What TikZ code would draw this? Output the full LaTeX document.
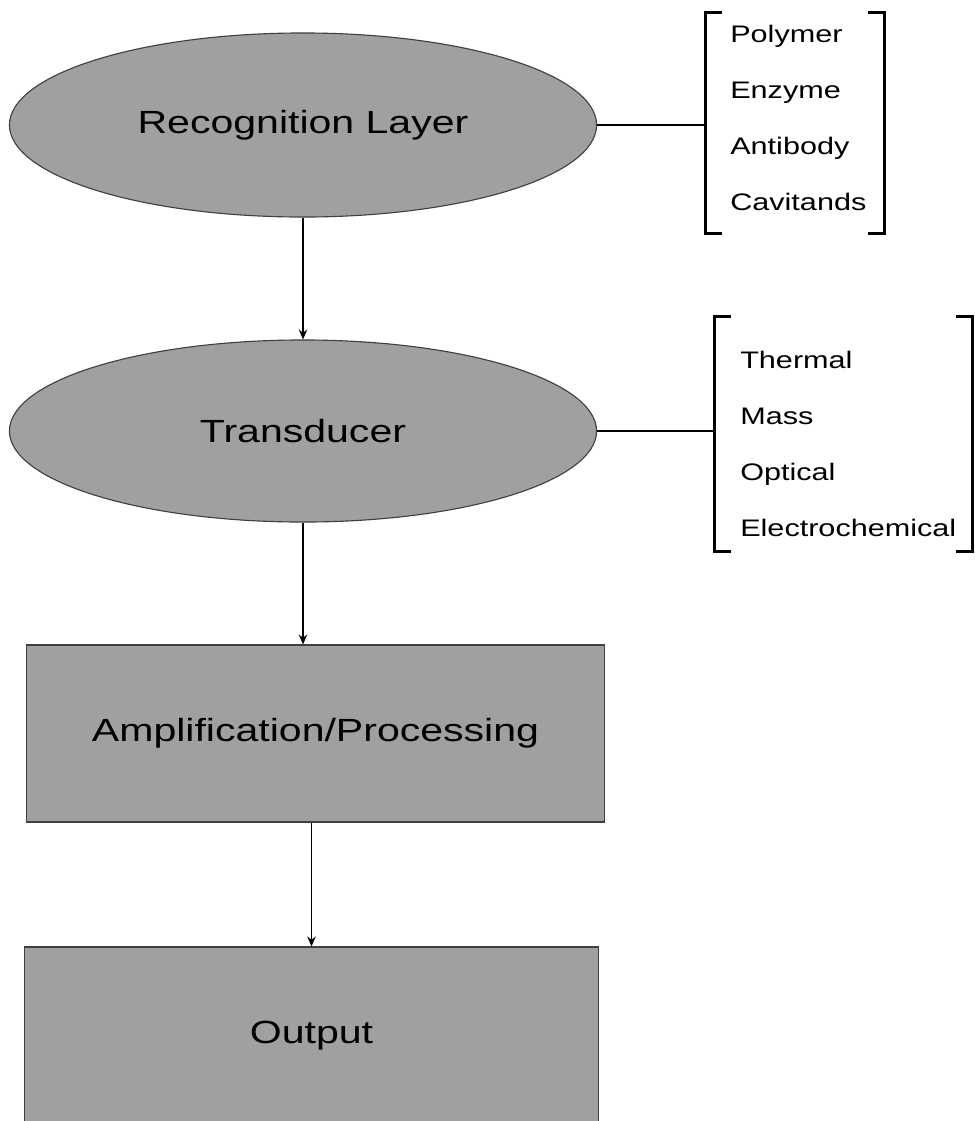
\documentclass[tikz,border=0pt]{standalone}
\usepackage{fontspec}
\setmainfont{Liberation Sans}[FakeStretch=1.28]
\usetikzlibrary{shapes.geometric, arrows.meta, positioning}
\usepackage{xcolor}
\definecolor{SensorGrey}{HTML}{A0A0A0}
\definecolor{SensorEdge}{HTML}{404040}
\tikzset{
    % Stage shapes - grey fill, thin dark border
    stage/.style={
        ellipse,
        draw=SensorEdge,
        fill=SensorGrey,
        line width=0.8pt,
        minimum width=14.675cm,
        minimum height=4.6cm,
        align=center,
        font=\fontsize{22.8}{27}\selectfont
    },
    block/.style={
        rectangle,
        draw=SensorEdge,
        fill=SensorGrey,
        line width=0.8pt,
        align=center,
        font=\fontsize{22.8}{27}\selectfont
    },
    % Bracketed lists
    listbox/.style={
        rectangle,
        inner sep=0pt
    },
    listitem/.style={
        anchor=base west,
        inner sep=0pt,
        font=\fontsize{17}{20}\selectfont
    },
    bracket/.style={
        line width=2pt
    },
    % Connectors
    arrow/.style={
        ->,
        >={Stealth[length=7pt,width=6pt]},
        line width=1.2pt,
        draw=black
    },
    link/.style={
        line width=1pt,
        draw=black
    }
}
\begin{document}
\begin{tikzpicture}[x=0.025cm, y=-0.025cm]
    \useasboundingbox (0,0) rectangle (975,1121);
    \clip (0,0) rectangle (975,1121);

    \node[stage] (recog) at (303,125) {Recognition Layer};
    \node[stage, minimum height=4.55cm] (trans) at (303,431) {Transducer};
    \node[block, minimum width=14.425cm, minimum height=4.425cm] (amp) at (315.5,733.5) {Amplification/Processing};
    \node[block, minimum width=14.325cm, minimum height=4.7cm, text depth=0.45cm] (out) at (311.5,1041) {Output};

    \node[listbox, minimum width=4.45cm, minimum height=5.5cm] (recbr) at (795,123) {};
    \node[listbox, minimum width=6.425cm, minimum height=5.85cm] (transbr) at (843.5,434) {};

    \foreach \lbl [count=\i] in {Polymer, Enzyme, Antibody, Cavitands}
        \node[listitem] (rec\i) at (730,-14+56*\i) {\lbl};
    \foreach \lbl [count=\i] in {Thermal, Mass, Optical, Electrochemical}
        \node[listitem] (tr\i) at (740,312+56*\i) {\lbl};

    \draw[bracket] (recbr.north west) ++(16,0) -- (recbr.north west) -- (recbr.south west) -- ++(16,0);
    \draw[bracket] (recbr.north east) ++(-16,0) -- (recbr.north east) -- (recbr.south east) -- ++(-16,0);
    \draw[bracket] (transbr.north west) ++(16,0) -- (transbr.north west) -- (transbr.south west) -- ++(16,0);
    \draw[bracket] (transbr.north east) ++(-16,0) -- (transbr.north east) -- (transbr.south east) -- ++(-16,0);

    \draw[link] (recog.east) -- (recog.east -| recbr.west);
    \draw[link] (trans.east) -- (trans.east -| transbr.west);
    \draw[arrow] (recog) -- (trans);
    \draw[arrow] (trans) -- (trans |- amp.north);
    \draw[arrow] (amp.south -| out) -- (out);
\end{tikzpicture}
\end{document}
